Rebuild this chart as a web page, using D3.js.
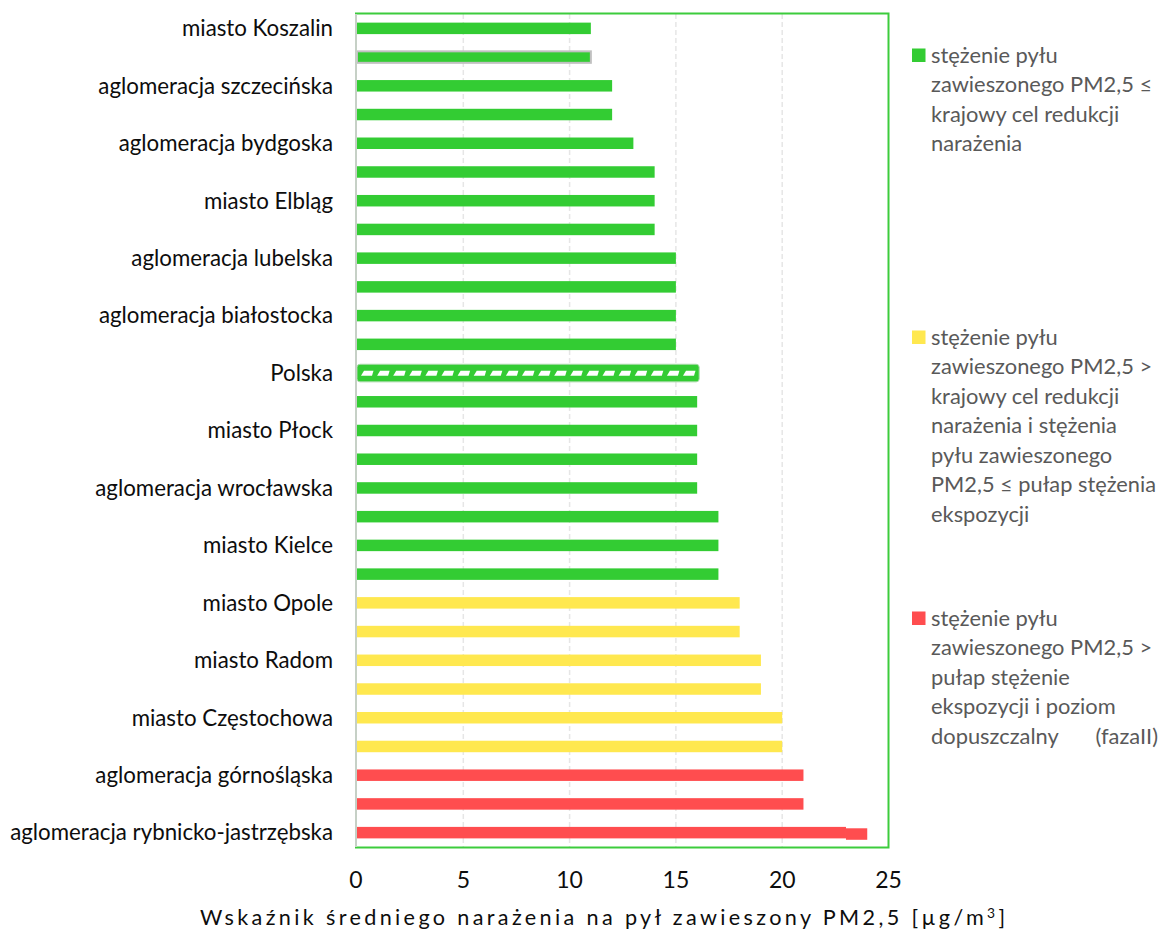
<!DOCTYPE html>
<html><head><meta charset="utf-8">
<script src="https://cdn.jsdelivr.net/npm/d3@7"></script>
<style>
html,body{margin:0;padding:0;background:#fff;}
svg{display:block;font-family:Lato,"Open Sans",sans-serif;}
</style></head>
<body>
<svg id="chart" width="1163" height="934"></svg>
<script>
// ---- data ----
const categories = [
  "miasto Koszalin","miasto Słupsk","aglomeracja szczecińska","miasto Olsztyn",
  "aglomeracja bydgoska","aglomeracja trójmiejska","miasto Elbląg","miasto Toruń",
  "aglomeracja lubelska","miasto Gorzów Wielkopolski","aglomeracja białostocka","miasto Zielona Góra",
  "Polska","aglomeracja poznańska","miasto Płock","aglomeracja warszawska",
  "aglomeracja wrocławska","miasto Rzeszów","miasto Kielce","aglomeracja łódzka",
  "miasto Opole","miasto Legnica","miasto Radom","miasto Tarnów",
  "miasto Częstochowa","aglomeracja krakowska","aglomeracja górnośląska","miasto Bielsko-Biała",
  "aglomeracja rybnicko-jastrzębska"
];
const labelled = [0,2,4,6,8,10,12,14,16,18,20,22,24,26,28];
const values = [11,11,12,12,13,14,14,14,15,15,15,15,16,16,16,16,16,17,17,17,18,18,19,19,20,20,21,21,23];
const extraSegment = [0,0,0,0,0,0,0,0,0,0,0,0,0,0,0,0,0,0,0,0,0,0,0,0,0,0,0,0,1];
const classes = ["g","g","g","g","g","g","g","g","g","g","g","g","g","g","g","g","g","g","g","g","y","y","y","y","y","y","r","r","r"];
const outlinedRow = 1;
const nationalRow = 12;
const xTicks = [0,5,10,15,20,25];
const legendKeys = ["g","y","r"];
const legendLines = [
  ["stężenie pyłu","zawieszonego PM2,5 ≤","krajowy cel redukcji","narażenia"],
  ["stężenie pyłu","zawieszonego PM2,5 >","krajowy cel redukcji","narażenia i stężenia","pyłu zawieszonego","PM2,5 ≤ pułap stężenia","ekspozycji"],
  ["stężenie pyłu","zawieszonego PM2,5 >","pułap stężenie","ekspozycji i poziom","dopuszczalny|(fazaII)"]
];
const xTitle = "Wskaźnik średniego narażenia na pył zawieszony PM2,5 [µg/m";
const xTitleSup = "3";
const xTitleEnd = "]";

// ---- styles ----
const colors = {g:"#33cc33", y:"#ffe84f", r:"#ff4d4f"};
const svg = d3.select("#chart");

const x = d3.scaleLinear().domain([0,25]).range([357, 888.5]);
const y = d3.scaleBand().domain(categories).range([14, 847]).paddingInner(0.6).paddingOuter(0.3);
const yc = c => y(c) + y.bandwidth()/2;

// font fitting helper
function measure(text, size){
  const t = svg.append("text").attr("font-size", size).text(text);
  const w = t.node().getComputedTextLength();
  t.remove();
  return w;
}
function fitSize(text, target, base){ return base * target / measure(text, base); }
const labelSize = fitSize("aglomeracja rybnicko-jastrzębska", 323, 18);
const legendSize = Math.min(fitSize("krajowy cel redukcji", 201, 18), fitSize("PM2,5 ≤ pułap stężenia", 226, 18));
const legendMaxW = 225;

// gridlines
svg.append("g").selectAll("line").data(xTicks.filter(d => d>0 && d<25)).join("line")
  .attr("x1", d=>x(d)).attr("x2", d=>x(d)).attr("y1", 14).attr("y2", 847)
  .attr("stroke", "#e6e6e6").attr("stroke-width", 1.5).attr("stroke-dasharray", "5,3");

// plot frame (green)
svg.append("rect").attr("x", 356).attr("y", 13.5).attr("width", 888.5-356).attr("height", 847.5-13.5)
  .attr("fill", "none").attr("stroke", "#3ccc3c").attr("stroke-width", 2);

// bars
const bars = svg.append("g");
categories.forEach((c,i) => {
  if (i === nationalRow) return;
  const r = bars.append("rect")
    .attr("x", x(0)).attr("y", y(c))
    .attr("width", x(values[i]) - x(0)).attr("height", y.bandwidth())
    .attr("fill", colors[classes[i]]);
  if (i === outlinedRow) r.attr("stroke", "#c0c0c0").attr("stroke-width", 2);
  if (extraSegment[i] > 0) {
    bars.append("rect")
      .attr("x", x(values[i])).attr("y", y(c) + 1.4)
      .attr("width", x(values[i] + extraSegment[i]) - x(values[i])).attr("height", y.bandwidth())
      .attr("fill", colors[classes[i]]);
  }
});
// national bar (Polska) - thicker, rounded, dashed
{
  const c = categories[nationalRow], i = nationalRow;
  const cy = yc(c);
  const x0 = x(0), x1 = x(values[i]) + 2;
  bars.append("rect").attr("x", x0).attr("y", cy - 8.8).attr("width", x1 - x0).attr("height", 17.6)
    .attr("rx", 3).attr("ry", 3)
    .attr("fill", colors[classes[i]]).attr("stroke", "#a9d9a9").attr("stroke-width", 1);
  const starts = d3.range(x0 + 4, x1 - 12, 16.1);
  bars.append("g").selectAll("path").data(starts).join("path")
    .attr("d", s => `M${s},${cy+2.6} L${s+3},${cy-2.4} L${s+12.5},${cy-2.4} L${s+11},${cy+2.6} Z`)
    .attr("fill", "#fff");
}

// left axis line
svg.append("line").attr("x1", 356).attr("x2", 356).attr("y1", 14).attr("y2", 847)
  .attr("stroke", "#c6d0c6").attr("stroke-width", 2);

// category labels
svg.append("g").selectAll("text").data(labelled).join("text")
  .attr("x", 333).attr("y", i => yc(categories[i]))
  .attr("dy", "0.35em").attr("text-anchor", "end")
  .attr("font-size", labelSize).attr("fill", "#0d0d0d")
  .text(i => categories[i]);

// x tick labels
svg.append("g").selectAll("text").data(xTicks).join("text")
  .attr("x", d => x(d) - (d===0?1:0)).attr("y", 888)
  .attr("text-anchor", "middle").attr("font-size", labelSize*1.03).attr("fill", "#0d0d0d")
  .text(d => d);

// x title
const tt = svg.append("text").attr("x", 200).attr("y", 925)
  .attr("font-size", labelSize*0.97).attr("fill", "#0d0d0d")
  .attr("textLength", 805).attr("lengthAdjust", "spacing");
tt.append("tspan").text(xTitle);
tt.append("tspan").attr("dy", -7).attr("font-size", labelSize*0.62).text(xTitleSup);
tt.append("tspan").attr("dy", 7).text(xTitleEnd);

// legend
const legendTops = [48.5, 330.5, 611.5];
const lineH = 29.5;
legendKeys.forEach((k, j) => {
  const g = svg.append("g");
  g.append("rect").attr("x", 912).attr("y", legendTops[j]).attr("width", 13.5).attr("height", 13.5)
    .attr("fill", colors[k]);
  legendLines[j].forEach((ln, li) => {
    const by = legendTops[j] + 14 + li*lineH;
    const parts = ln.split("|");
    const t = g.append("text").attr("x", 931).attr("y", by).attr("font-size", legendSize)
      .attr("fill", "#595959").text(parts[0]);
    if (!parts[1] && measure(parts[0], legendSize) > legendMaxW) {
      t.attr("textLength", legendMaxW).attr("lengthAdjust", "spacingAndGlyphs");
    }
    if (parts[1]) {
      g.append("text").attr("x", 1158).attr("y", by).attr("text-anchor", "end")
        .attr("font-size", legendSize).attr("fill", "#595959").text(parts[1]);
    }
  });
});
</script>
</body></html>
